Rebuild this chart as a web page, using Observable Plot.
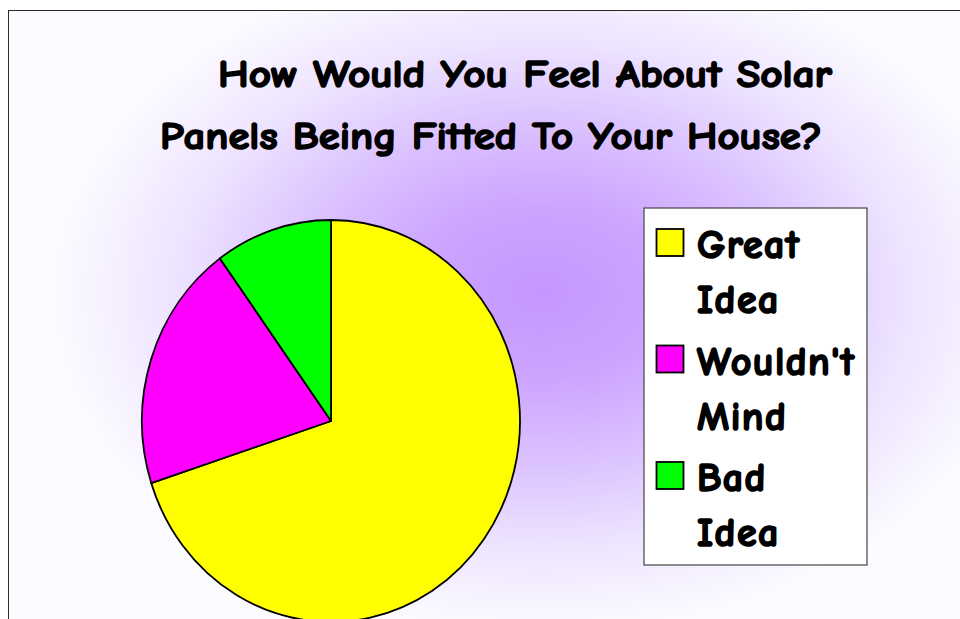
<!DOCTYPE html>
<html>
<head>
<meta charset="utf-8">
<script src="https://cdn.jsdelivr.net/npm/d3@7"></script>
<script src="https://cdn.jsdelivr.net/npm/@observablehq/plot@0.6"></script>
<style>
  html, body { margin: 0; padding: 0; width: 960px; height: 619px; overflow: hidden; background: #fff; }
  #page { position: absolute; left: 0; top: 0; width: 960px; height: 619px; overflow: hidden; }
  #frame {
    position: absolute; left: 8px; top: 10px; width: 1000px; height: 700px;
    border-left: 1.5px solid #2a2a2a; border-top: 1.5px solid #2a2a2a;
    background: radial-gradient(ellipse 490px 340px at 532px 282px,
      #c497ff 0%, #cca4ff 25%, #dbc2ff 50%, #eee4ff 75%, #fcfbff 100%);
  }
  #pie { position: absolute; left: 140px; top: 218px; }
  #overlay { position: absolute; left: 0; top: 0; }
  .t { font-family: "Comic Sans MS", "Comic Neue", "Lato", sans-serif; font-weight: 700; fill: #000;
       stroke: #000; stroke-linejoin: round; paint-order: stroke; }
</style>
</head>
<body>
<div id="page">
  <div id="frame"></div>
  <div id="pie"></div>
  <svg id="overlay" width="960" height="619"></svg>
</div>
<script>
// ---- data ----
const titleLines = ["How Would You Feel About Solar", "Panels Being Fitted To Your House?"];
const categories = ["Great Idea", "Wouldn't Mind", "Bad Idea"];
const legendLines = [["Great", "Idea"], ["Wouldn't", "Mind"], ["Bad", "Idea"]];
const shares = [70, 20, 10];
const colors = ["#ffff00", "#ff00ff", "#00ff00"];

// ---- pie via Plot ----
const data = categories.map((c, i) => ({category: c, value: shares[i]}));
const arcs = d3.pie().value(d => d.value).sort(null)(data);
const anchors = arcs.map(a => {
  const m = (a.startAngle + a.endAngle) / 2;
  return {category: a.data.category, x: Math.sin(m) * 0.5, y: Math.cos(m) * 0.5};
});

function pieMark(index, scales, values, dimensions) {
  let cx, cy, rx, ry;
  if (scales.x && scales.y) {
    cx = scales.x(0); cy = scales.y(0);
    rx = scales.x(1) - cx; ry = scales.y(-1) - cy;
  } else {
    const {width, height, marginLeft, marginRight, marginTop, marginBottom} = dimensions;
    cx = (marginLeft + width - marginRight) / 2; cy = (marginTop + height - marginBottom) / 2;
    rx = (width - marginLeft - marginRight) / 2; ry = (height - marginTop - marginBottom) / 2;
  }
  const color = scales.color || d3.scaleOrdinal(categories, colors);
  const g = d3.create("svg:g");
  for (const a of arcs) {
    const p = t => [cx + rx * Math.sin(t), cy - ry * Math.cos(t)];
    const [x0, y0] = p(a.startAngle), [x1, y1] = p(a.endAngle);
    const large = a.endAngle - a.startAngle > Math.PI ? 1 : 0;
    g.append("path")
      .attr("d", `M${cx},${cy}L${x0},${y0}A${rx},${ry} 0 ${large} 1 ${x1},${y1}Z`)
      .attr("fill", color(a.data.category))
      .attr("stroke", "#000")
      .attr("stroke-width", 1.8)
      .attr("stroke-linejoin", "round");
  }
  return g.node();
}

const chart = Plot.plot({
  width: 382,
  height: 406,
  margin: 2,
  style: {background: "transparent", overflow: "visible"},
  x: {domain: [-1, 1], axis: null},
  y: {domain: [-1, 1], axis: null},
  color: {domain: categories, range: colors},
  marks: [
    Plot.dot(anchors, {x: "x", y: "y", fill: "category", r: 0, fillOpacity: 0}),
    pieMark
  ]
});
document.getElementById("pie").appendChild(chart);

// ---- title & legend (outside the plot SVG) ----
const svg = d3.select("#overlay");
const titleX = [218, 160], titleY = [87, 149], titleW = [614, 662];
titleLines.forEach((s, i) => {
  svg.append("text").attr("class", "t").attr("x", titleX[i]).attr("y", titleY[i])
    .attr("font-size", 39).attr("stroke-width", 1.6)
    .attr("textLength", titleW[i]).attr("lengthAdjust", "spacingAndGlyphs")
    .text(s);
});

const lg = svg.append("g").attr("transform", "translate(644,208)");
lg.append("rect").attr("x", 0).attr("y", 0).attr("width", 223).attr("height", 357)
  .attr("fill", "#fff").attr("stroke", "#444").attr("stroke-width", 1.2);
const sw = d3.scaleOrdinal(categories, colors);
categories.forEach((c, i) => {
  const top = 21 + i * 116.5;
  lg.append("rect").attr("x", 12.5).attr("y", top).attr("width", 27).attr("height", 27)
    .attr("fill", sw(c)).attr("stroke", "#000").attr("stroke-width", 1.8);
  legendLines[i].forEach((s, j) => {
    lg.append("text").attr("class", "t").attr("x", 53).attr("y", 50 + i * 116.5 + j * 55)
      .attr("font-size", 40).attr("letter-spacing", 1.4).attr("stroke-width", 1.7).text(s);
  });
});
</script>
</body>
</html>
